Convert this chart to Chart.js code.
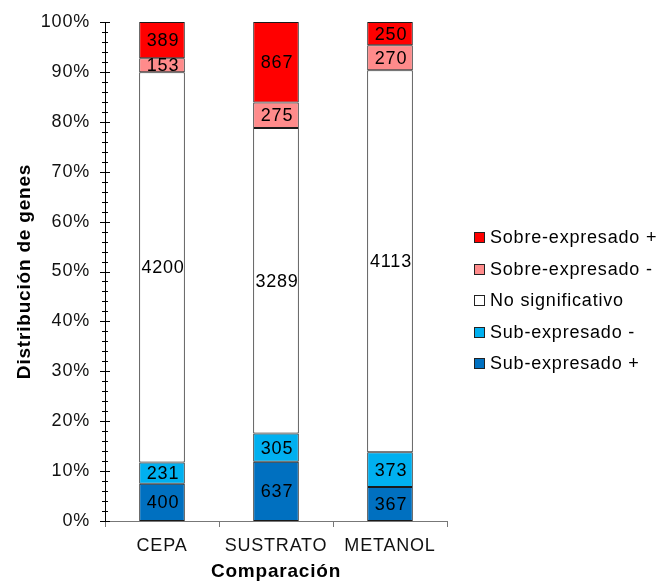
<!DOCTYPE html>
<html>
<head>
<meta charset="utf-8">
<script src="https://cdn.jsdelivr.net/npm/chart.js@4/dist/chart.umd.min.js"></script>
<style>
  html, body { margin: 0; padding: 0; background: #fff; }
  #wrap { width: 657px; height: 583px; }
</style>
</head>
<body>
<div id="wrap"><canvas id="c" width="657" height="583"></canvas></div>
<script>
// Gene counts per comparison and expression class
const categories = ['CEPA', 'SUSTRATO', 'METANOL'];
const seriesNames = ['Sub-expresado +', 'Sub-expresado -', 'No significativo', 'Sobre-expresado -', 'Sobre-expresado +'];
const subPlus   = [400, 637, 367];
const subMinus  = [231, 305, 373];
const noSig     = [4200, 3289, 4113];
const sobreMin  = [153, 275, 270];
const sobrePlus = [389, 867, 250];
const yTickValues = [0, 10, 20, 30, 40, 50, 60, 70, 80, 90, 100];

const seriesColors = ['#0070C0', '#00B0F0', '#FFFFFF', '#FF8B8B', '#FF0000'];
const counts = [subPlus, subMinus, noSig, sobreMin, sobrePlus];
const totals = categories.map((_, i) => counts.reduce((s, arr) => s + arr[i], 0));

const FONT = '"Liberation Sans", Arial, sans-serif';
const SPACING = '0.8px';

const datasets = counts.map((arr, k) => ({
  label: seriesNames[k],
  data: arr.map((v, i) => v / totals[i] * 100),
  rawCounts: arr,
  backgroundColor: seriesColors[k],
  borderColor: '#1a1a1a',
  borderWidth: 1,
  borderSkipped: false,
  categoryPercentage: 0.8,
  barPercentage: 0.5
}));

// Slightly tracked lettering for all canvas text
const tracking = {
  id: 'tracking',
  beforeUpdate(chart) { chart.ctx.letterSpacing = SPACING; },
  beforeDraw(chart) { chart.ctx.letterSpacing = SPACING; }
};

// Count labels centred in each stacked segment
const segmentLabels = {
  id: 'segmentLabels',
  afterDatasetsDraw(chart) {
    const ctx = chart.ctx;
    ctx.save();
    ctx.font = '18px ' + FONT;
    ctx.fillStyle = '#000';
    ctx.textAlign = 'center';
    ctx.textBaseline = 'middle';
    chart.data.datasets.forEach((ds, di) => {
      const meta = chart.getDatasetMeta(di);
      meta.data.forEach((bar, i) => {
        const y = (bar.y + bar.base) / 2;
        ctx.fillText(String(ds.rawCounts[i]), bar.x + 1, y + 1);
      });
    });
    ctx.restore();
  }
};

// Major and minor ticks crossing the value axis
const axisTicks = {
  id: 'axisTicks',
  afterDraw(chart) {
    const ctx = chart.ctx;
    const ys = chart.scales.y;
    const x0 = chart.chartArea.left;
    ctx.save();
    ctx.strokeStyle = '#000';
    ctx.lineWidth = 1;
    ctx.beginPath();
    for (let v = 0; v <= 100; v += 2) {
      const y = Math.round(ys.getPixelForValue(v)) + 0.5;
      const major = v % 10 === 0;
      ctx.moveTo(x0 - (major ? 5 : 3), y);
      ctx.lineTo(x0 + (major ? 5 : 3), y);
    }
    ctx.stroke();
    ctx.restore();
  }
};

// Legend column to the right of the plot
const sideLegend = {
  id: 'sideLegend',
  afterDraw(chart) {
    const ctx = chart.ctx;
    ctx.save();
    ctx.font = '18px ' + FONT;
    ctx.textBaseline = 'middle';
    ctx.textAlign = 'left';
    const x = 474, y0 = 237, step = 31.5;
    const order = chart.data.datasets.map((d, i) => i).reverse();
    order.forEach((di, row) => {
      const ds = chart.data.datasets[di];
      const y = Math.round(y0 + row * step);
      ctx.fillStyle = ds.backgroundColor;
      ctx.fillRect(x, y - 5, 11, 11);
      ctx.strokeStyle = '#222';
      ctx.lineWidth = 1;
      ctx.strokeRect(x + 0.5, y - 4.5, 10, 10);
      ctx.fillStyle = '#000';
      ctx.fillText(ds.label, x + 16, y + 1);
    });
    ctx.restore();
  }
};

new Chart(document.getElementById('c'), {
  type: 'bar',
  data: { labels: categories, datasets },
  options: {
    responsive: false,
    animation: false,
    layout: { padding: { top: 22, right: 210, left: 0, bottom: 0 } },
    plugins: { legend: { display: false }, tooltip: { enabled: false } },
    scales: {
      x: {
        stacked: true,
        offset: true,
        grid: { display: true, offset: true, drawOnChartArea: false, drawTicks: true, tickLength: 6, color: '#777' },
        border: { display: true, color: '#777', width: 1 },
        ticks: { font: { family: FONT, size: 18 }, color: '#111', padding: 8 },
        title: { display: true, text: 'Comparación', font: { family: FONT, size: 19, weight: 'bold' }, color: '#000', padding: { top: 0, bottom: 0 } },
        afterFit(scale) {
          scale.height = 62;
          scale.paddingLeft = 0; scale.paddingRight = 0;
          scale.paddingTop = 0; scale.paddingBottom = 0;
        }
      },
      y: {
        stacked: true,
        min: 0,
        max: 100,
        afterBuildTicks(scale) { scale.ticks = yTickValues.map(v => ({ value: v })); },
        grid: { display: false, drawTicks: false },
        border: { display: true, color: '#000', width: 1 },
        ticks: { font: { family: FONT, size: 18 }, color: '#111', padding: 15, callback: v => v + '%' },
        title: { display: true, text: 'Distribución de genes', font: { family: FONT, size: 19, weight: 'bold' }, color: '#000', padding: { top: 13, bottom: 4 } },
        afterFit(scale) {
          scale.width = 105;
          scale.paddingTop = 0; scale.paddingBottom = 0;
          scale.paddingLeft = 0; scale.paddingRight = 0;
        }
      }
    }
  },
  plugins: [tracking, segmentLabels, axisTicks, sideLegend]
});
</script>
</body>
</html>
